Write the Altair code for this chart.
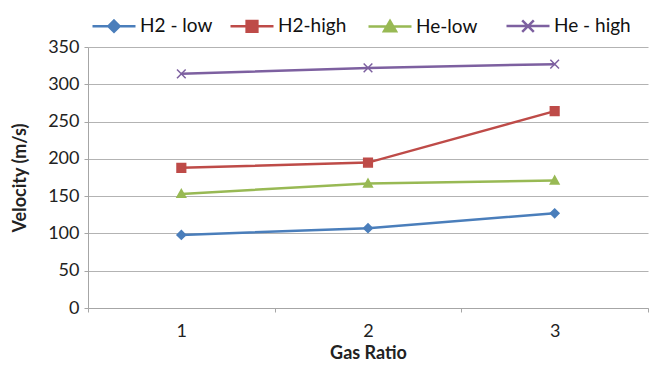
import altair as alt
import pandas as pd

series = ["H2 - low", "H2-high", "He-low", "He - high"]
ratios = ["1", "2", "3"]
h2_low = [98, 107, 127]
h2_high = [188, 195, 264]
he_low = [153, 167, 171]
he_high = [314, 322, 327]

colors = ["#4A7EBB", "#BE4B48", "#98B954", "#7D60A0"]

rows = []
for name, vals in zip(series, [h2_low, h2_high, he_low, he_high]):
    for r, v in zip(ratios, vals):
        rows.append({"series": name, "ratio": r, "velocity": v})
df = pd.DataFrame(rows)

FONT = "Lato"

marker_paths = [
    "M0,-1L1,0L0,1L-1,0Z",
    "M-1,-1H1V1H-1Z",
    "M0,-1L1,0.8H-1Z",
    "M-1,-1L1,1M-1,1L1,-1",
]
legend_paths = [
    "M-1,0H1M0,-0.26L0.26,0L0,0.26L-0.26,0Z",
    "M-1,0H1M-0.25,-0.25H0.25V0.25H-0.25Z",
    "M-1,0H1M0,-0.26L0.28,0.22H-0.28Z",
    "M-1,0H1M-0.27,-0.27L0.27,0.27M-0.27,0.27L0.27,-0.27",
]

x_enc = alt.X(
    "ratio:O",
    sort=ratios,
    scale=alt.Scale(type="band", paddingInner=0, paddingOuter=0),
    axis=alt.Axis(
        title="Gas Ratio",
        labelAngle=0,
        tickBand="extent",
        grid=False,
        domainColor="#A6A6A6",
        tickColor="#A6A6A6",
        tickSize=4,
        labelPadding=10,
        labelFontSize=18,
        labelColor="#222222",
        labelFont=FONT,
        titleFont=FONT,
        titleFontSize=18,
        titleFontWeight="bold",
        titleColor="#222222",
        titlePadding=4,
    ),
)
y_enc = alt.Y(
    "velocity:Q",
    scale=alt.Scale(domain=[0, 350], nice=False),
    axis=alt.Axis(
        title="Velocity (m/s)",
        values=[0, 50, 100, 150, 200, 250, 300, 350],
        grid=True,
        gridColor="#B3B3B3",
        gridWidth=1,
        domainColor="#A6A6A6",
        tickColor="#A6A6A6",
        tickSize=4,
        labelPadding=5,
        labelFontSize=18,
        labelColor="#222222",
        labelFont=FONT,
        titleFont=FONT,
        titleFontSize=18,
        titleFontWeight="bold",
        titleColor="#222222",
        titlePadding=18,
    ),
)

cscale = alt.Scale(domain=series, range=colors)

lines = alt.Chart(df).mark_line(strokeWidth=2.5).encode(
    x=x_enc,
    y=y_enc,
    color=alt.Color("series:N", scale=cscale, legend=None),
    detail="series:N",
)

points = alt.Chart(df).mark_point(filled=False, strokeWidth=1.5, size=75).encode(
    x=x_enc,
    y=y_enc,
    fill=alt.Fill("series:N", scale=alt.Scale(domain=series, range=colors), legend=None),
    stroke=alt.Stroke("series:N", scale=alt.Scale(domain=series, range=colors), legend=None),
    shape=alt.Shape("series:N", scale=alt.Scale(domain=series, range=marker_paths), legend=None),
    opacity=alt.value(1),
)

leg = alt.Legend(
    title=None,
    orient="none",
    direction="horizontal",
    legendX=3,
    legendY=-44,
    labelFont=FONT,
    labelFontSize=19,
    labelColor="#111111",
    symbolSize=1849,
    symbolStrokeWidth=2.5,
    symbolOpacity=1,
    columnPadding=8,
    gridAlign="all",
    labelOffset=3,
)

legend_layer = alt.Chart(df).transform_filter("false").mark_point(
    filled=True, size=1849, strokeWidth=2.5, opacity=1
).encode(
    x=x_enc,
    y=y_enc,
    color=alt.Color("series:N", scale=alt.Scale(domain=series, range=colors), legend=leg),
    stroke=alt.Stroke("series:N", scale=alt.Scale(domain=series, range=colors), legend=leg),
    shape=alt.Shape("series:N", scale=alt.Scale(domain=series, range=legend_paths), legend=leg),
)

chart = (
    alt.layer(lines, points, legend_layer)
    .resolve_scale(color="independent", shape="independent", fill="independent", stroke="independent")
    .properties(
        width=560,
        height=261,
        autosize=alt.AutoSizeParams(type="none"),
        padding={"left": 88, "top": 47, "right": 7, "bottom": 58},
        background="white",
    )
    .configure_view(stroke=None)
)

chart.save("out.html", embed_options={"renderer": "svg", "actions": False})
